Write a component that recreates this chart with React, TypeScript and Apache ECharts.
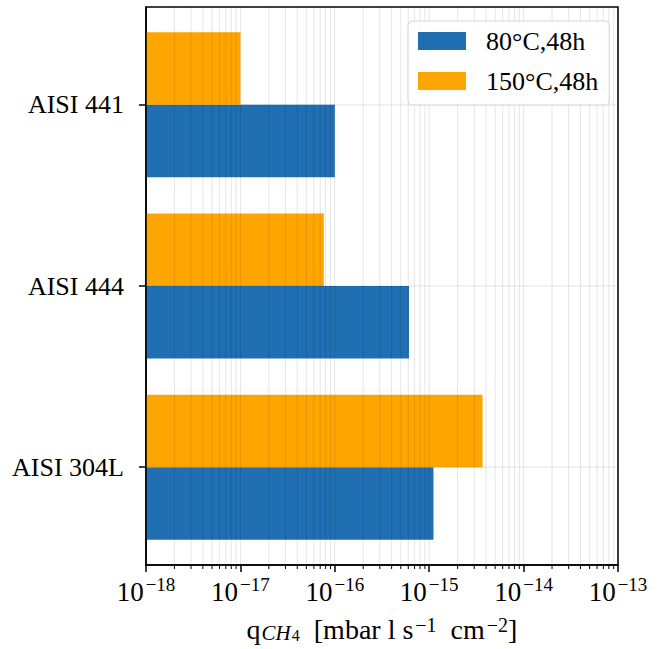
import React, { useEffect, useRef } from "react";
import * as echarts from "echarts";

// ---- data ----
const categories = ["AISI 441", "AISI 444", "AISI 304L"];
const seriesNames = ["80°C,48h", "150°C,48h"];
const values80 = [1.0e-16, 6.1e-16, 1.11e-15];
const values150 = [1.0e-17, 7.65e-17, 3.67e-15];
const colors = ["#1f6fb2", "#ffa500"];
const xMin = 1e-18;
const xMax = 1e-13;
const yMin = -0.54;
const yMax = 2.54;
const barHeight = 0.4;

const FONT = "Liberation Serif";

// gridline positions on the log axis (decorations, not data)
const decadeExps = [-18, -17, -16, -15, -14];
const gridValues: { v: number; major: boolean }[] = [];
decadeExps.forEach((e) => {
  for (let k = 1; k <= 9; k++) gridValues.push({ v: k * Math.pow(10, e), major: k === 1 });
});
gridValues.push({ v: xMax, major: true });

const GRID_COLOR = "rgba(0,0,0,0.1)";

export default function App() {
  const ref = useRef<HTMLDivElement>(null);
  useEffect(() => {
    document.body.style.margin = "0";
    const chart = echarts.init(ref.current!, undefined, { renderer: "svg" });

    const barSeries = (name: string, vals: number[], color: string, offset: number) => ({
      type: "custom",
      name,
      itemStyle: { color },
      encode: { x: 0, y: 1 },
      z: 2,
      data: vals.map((v, i) => [v, i]),
      renderItem: (params: any, api: any) => {
        const v = api.value(0);
        const i = api.value(1);
        const p0 = api.coord([xMin, i + offset]);
        const p1 = api.coord([v, i + offset + barHeight]);
        const x = Math.min(p0[0], p1[0]);
        const y = Math.min(p0[1], p1[1]);
        return {
          type: "rect",
          shape: { x, y, width: Math.abs(p1[0] - p0[0]), height: Math.abs(p1[1] - p0[1]) },
          style: { fill: color },
        };
      },
    });

    const option: any = {
      animation: false,
      grid: {
        left: 146,
        top: 7,
        width: 472,
        height: 558,
        show: true,
        borderColor: "#000",
        borderWidth: 1.5,
      },
      legend: {
        orient: "vertical",
        left: 408,
        top: 21,
        data: seriesNames.map((n) => ({ name: n, icon: "rect" })),
        itemWidth: 48,
        itemHeight: 18,
        itemGap: 14,
        padding: [7, 11, 11, 10],
        backgroundColor: "rgba(255,255,255,0.85)",
        borderColor: "#d6d6d6",
        borderWidth: 1,
        borderRadius: 4,
        textStyle: {
          fontFamily: FONT,
          fontSize: 26,
          color: "#000",
          lineHeight: 20,
          padding: [0, 0, 0, 15],
        },
        selectedMode: false,
        z: 20,
      },
      xAxis: {
        type: "log",
        logBase: 10,
        min: xMin,
        max: xMax,
        z: 10,
        axisLine: { show: true, onZero: false, lineStyle: { color: "#000", width: 1.5 } },
        axisTick: { show: true, length: 7, lineStyle: { color: "#000", width: 1.5 } },
        splitLine: { show: false },
        axisLabel: {
          margin: 10,
          fontFamily: FONT,
          color: "#000",
          formatter: (v: number) => {
            const e = Math.round(Math.log10(v));
            return `{b|10}{s|${e < 0 ? "\u2212" : ""}${Math.abs(e)}}`;
          },
          rich: {
            b: { fontFamily: FONT, fontSize: 27, lineHeight: 28, padding: [5, 0, 0, 0], color: "#000" },
            s: { fontFamily: FONT, fontSize: 19, lineHeight: 18, verticalAlign: "top", color: "#000", padding: [0, 0, 0, 2] },
          },
        },
        name: "q{sub|CH}{sub4|4}  [mbar l s{sup|\u22121}  cm{sup|\u22122}]",
        nameLocation: "middle",
        nameGap: 50,
        nameTextStyle: {
          fontFamily: FONT,
          fontSize: 28,
          color: "#000",
          rich: {
            sub: { fontFamily: FONT, fontSize: 21, fontStyle: "italic", verticalAlign: "bottom", lineHeight: 22, color: "#000", padding: [0, 1, 0, 1] },
            sub4: { fontFamily: FONT, fontSize: 16, verticalAlign: "bottom", lineHeight: 18, color: "#000" },
            sup: { fontFamily: FONT, fontSize: 20, verticalAlign: "top", lineHeight: 18, color: "#000", padding: [0, 0, 0, 2] },
          },
        },
      },
      yAxis: {
        type: "value",
        min: yMin,
        max: yMax,
        inverse: true,
        z: 10,
        axisLine: { show: true, onZero: false, lineStyle: { color: "#000", width: 1.5 } },
        axisTick: { show: true, length: 7, customValues: [0, 1, 2], lineStyle: { color: "#000", width: 1.5 } },
        splitLine: { show: false },
        axisLabel: {
          customValues: [0, 1, 2],
          margin: 22,
          fontFamily: FONT,
          fontSize: 26,
          color: "#000",
          formatter: (v: number) => categories[Math.round(v)] ?? "",
        },
      },
      series: [
        barSeries(seriesNames[0], values80, colors[0], 0),
        barSeries(seriesNames[1], values150, colors[1], -barHeight),
        {
          type: "custom",
          name: "vgrid",
          z: 5,
          silent: true,
          encode: { x: 0, y: 1 },
          data: gridValues.map((g) => [g.v, 0, g.major ? 1 : 0]),
          renderItem: (params: any, api: any) => {
            const v = api.value(0);
            const major = api.value(2) === 1;
            const top = api.coord([v, yMin]);
            const bot = api.coord([v, yMax]);
            const children: any[] = [
              {
                type: "line",
                shape: { x1: top[0], y1: top[1], x2: bot[0], y2: bot[1] },
                style: { stroke: GRID_COLOR, lineWidth: 1 },
              },
            ];
            if (!major) {
              children.push({
                type: "line",
                shape: { x1: bot[0], y1: bot[1], x2: bot[0], y2: bot[1] + 4 },
                style: { stroke: "#000", lineWidth: 1 },
              });
            }
            return { type: "group", children };
          },
        },
        {
          type: "custom",
          name: "hgrid",
          z: 5,
          silent: true,
          encode: { x: 0, y: 1 },
          data: categories.map((_, i) => [xMin, i]),
          renderItem: (params: any, api: any) => {
            const i = api.value(1);
            const a = api.coord([xMin, i]);
            const b = api.coord([xMax, i]);
            return {
              type: "line",
              shape: { x1: a[0], y1: a[1], x2: b[0], y2: b[1] },
              style: { stroke: GRID_COLOR, lineWidth: 1 },
            };
          },
        },
      ],
    };
    chart.setOption(option);
    return () => chart.dispose();
  }, []);
  return <div ref={ref} style={{ width: 663, height: 649 }} />;
}
